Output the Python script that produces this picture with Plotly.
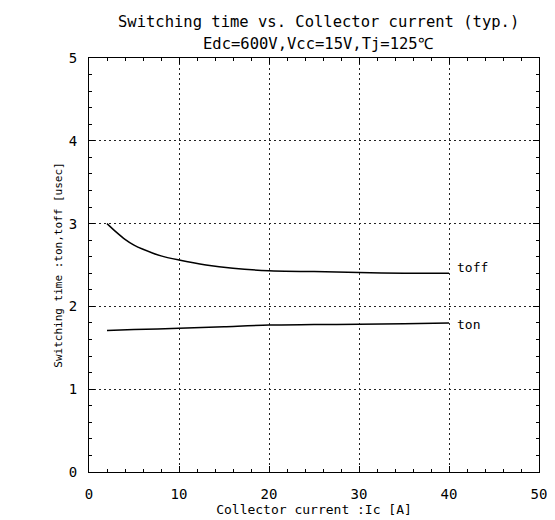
import plotly.graph_objects as go

ic_off = [2, 3, 4, 5, 6, 8, 10, 13, 16, 20, 25, 30, 35, 40]
toff = [3.00, 2.90, 2.81, 2.74, 2.69, 2.61, 2.56, 2.50, 2.46, 2.43, 2.42, 2.41, 2.40, 2.40]
ic_on = [2, 5, 10, 15, 20, 25, 30, 35, 40]
ton = [1.71, 1.72, 1.735, 1.755, 1.775, 1.78, 1.785, 1.79, 1.80]

x_ticks = [0, 10, 20, 30, 40, 50]
y_ticks = [0, 1, 2, 3, 4, 5]

title_lines = ["Switching time vs. Collector current (typ.)", "Edc=600V,Vcc=15V,Tj=125℃"]

FONT = "DejaVu Sans Mono"

fig = go.Figure()
fig.add_trace(go.Scatter(x=ic_off, y=toff, mode="lines", line=dict(color="black", width=1.5, shape="spline", smoothing=0.8), showlegend=False))
fig.add_trace(go.Scatter(x=ic_on, y=ton, mode="lines", line=dict(color="black", width=1.5, shape="spline", smoothing=0.8), showlegend=False))

fig.add_annotation(x=ic_off[-1], y=toff[-1], text="toff", xref="x", yref="y", xanchor="left", yanchor="middle",
                   showarrow=False, xshift=6, yshift=6, font=dict(family=FONT, size=13, color="black"))
fig.add_annotation(x=ic_on[-1], y=ton[-1], text="ton", xref="x", yref="y", xanchor="left", yanchor="middle",
                   showarrow=False, xshift=6, yshift=-2, font=dict(family=FONT, size=13, color="black"))

for txt, ys in zip(title_lines, [36, 14]):
    fig.add_annotation(x=0.51, y=1, xref="paper", yref="paper", xanchor="center", yanchor="middle", yshift=ys,
                       showarrow=False, text=txt, borderpad=0, font=dict(family=FONT, size=15.5, color="black"))

axis_common = dict(
    showline=True, linecolor="black", linewidth=1, mirror="ticks",
    ticks="inside", ticklen=6, tickcolor="black", tickwidth=1,
    showgrid=True, gridcolor="#222", griddash="2px,3px", gridwidth=1,
    zeroline=False,
    tickfont=dict(family=FONT, size=14, color="black"),
)

fig.update_xaxes(range=[0, 50], tickvals=x_ticks, ticktext=[str(v) for v in x_ticks],
                 minor=dict(dtick=2, ticks="inside", ticklen=3, tickcolor="black", showgrid=False),
                 ticklabelstandoff=9,
                 title=dict(text="Collector current :Ic [A]", font=dict(family=FONT, size=13, color="black"), standoff=4),
                 **axis_common)
fig.update_yaxes(range=[0, 5], tickvals=y_ticks, ticktext=[str(v) for v in y_ticks],
                 minor=dict(dtick=0.2, ticks="inside", ticklen=3, tickcolor="black", showgrid=False),
                 ticklabelstandoff=8,
                 title=dict(text="Switching time :ton,toff [usec]", font=dict(family=FONT, size=11, color="black"), standoff=3),
                 **axis_common)

fig.update_layout(
    width=555, height=520,
    margin=dict(l=81, r=24, t=50, b=56, autoexpand=False),
    paper_bgcolor="white", plot_bgcolor="white",
)

fig.write_html("out.html")
